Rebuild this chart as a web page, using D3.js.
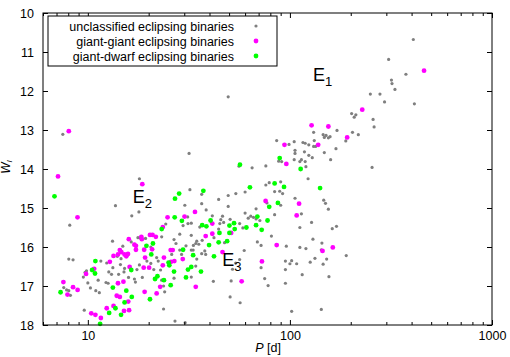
<!DOCTYPE html>
<html lang="en">
<head>
<meta charset="utf-8">
<script src="https://d3js.org/d3.v7.min.js"></script>
<style>
    body { margin: 0; background: #fff; }
    svg text { font-family: "Liberation Sans", Arial, Helvetica, sans-serif; }
</style>
</head>
<body>
<svg id="main" width="510" height="357"></svg>
<script>
// period P [d], magnitude W_I
const unclassified = [
    [408,10.68],[308,11.19],[375,11.57],[318,11.72],[320,11.81],[331,11.96],[413,12.33],[250,12.08],[279,12.08],[294,12.28],
    [202,12.58],[212,12.61],[208,12.67],[258,12.73],[261,12.92],[131,13.06],[171,13.01],[146,13.12],[151,13.14],[158,13.17],
    [148,13.19],[155,13.2],[204,13.06],[218,13.12],[189,13.28],[132,13.27],[86,13.27],[99,13.37],[105,13.3],[116,13.32],
    [119,13.34],[124,13.38],[131,13.42],[134,13.42],[106,13.52],[106,13.6],[118,13.56],[169,13.48],[148,13.58],[88,13.8],
    [91,13.81],[124,13.65],[129,13.71],[114,13.76],[112,13.81],[119,13.81],[105,13.76],[159,13.76],[120,13.94],[255,13.96],
    [76,13.92],[65,13.97],[123,14.25],[106,14.75],[114,15.15],[147,14.8],[150,14.88],[155,15.03],[128,15.37],[112,15.5],
    [162,15.53],[170,15.47],[130,15.8],[144,15.9],[143,16.07],[152,16.31],[146,16.44],[156,16.76],[190,16.22],[133,16.29],
    [126,16.39],[120,16.04],[112,16.01],[115,16.71],[143,17.6],[102,17.65],[95,16.93],[95,16.58],[95,16.36],[100,16.43],
    [102,16.35],[108,16.43],[96,15.98],[81,15.72],[72,15.96],[69,15.87],[72,16.53],[75,16.81],[78,16.99],[66,15.24],
    [68,15.28],[71,15.32],[68,15.02],[84,15.17],[77,14.87],[90,14.93],[92,14.63],[89,14.57],[84,14.58],[79,14.35],
    [76,14.41],[90,14.33],
    [31.7,13.6],[56,13.93],[60,14.59],[54,14.63],[49.5,14.68],[36.6,14.65],[32,14.53],[44.4,14.78],[36.6,14.89],[38.5,15.05],
    [49.5,14.96],[41.3,15.2],[60,15.13],[64,15.21],[46.4,15.21],[45.5,15.3],[47,15.37],[45,15.4],[62.2,15.26],[50.6,15.29],
    [56.4,15.4],[58.5,15.51],[32.5,15.39],[35.8,15.49],[44.4,15.54],
    [18,14.25],[30.2,14.93],[13.7,14.94],[17.9,15.1],[16.5,15.2],[31.2,15.23],[31.3,15.4],[29.6,15.45],[24.3,15.41],
    [7.52,13.11],[8.14,15.44],[49.5,12.15],
    [13.25,15.85],[8.05,16.31],[8.45,16.33],[11.6,16.36],[12.4,16.41],[13.3,16.53],[12.7,16.64],[13.1,16.7],[9.85,16.61],
    [9.7,16.65],[9.5,16.77],[11.25,16.85],[10,16.92],[10.3,17.05],[10.95,17.12],[11.4,17.17],[12.3,16.91],[12.6,16.93],
    [7.6,17.04],[7.85,17.1],[8.05,17.12],[8.2,17.24],[9.6,17.62],
    [14.9,15.98],[16.4,15.87],[17.7,15.76],[18.1,15.76],[23.2,15.74],[26.7,15.81],[28.5,15.67],[27.3,15.91],[30.6,15.97],
    [19.3,15.78],[20.5,16],[14,16.24],[14.6,16.3],[18,16.46],[19.6,16.36],[20.5,16.42],[21.9,16.27],[22.3,16.36],[28.5,16.08],
    [26,16.19],[29.1,16.19],[14.5,16.45],[15.2,16.55],[15.1,16.64],[17.5,16.58],[21.2,16.58],[22.9,16.59],[18.6,16.78],
    [21.6,16.83],[23.2,16.85],[17,16.82],[17.2,16.9],[15.9,16.78],[14.2,16.7],[23.7,17],[24,17.15],[26.7,16.8],[23.7,17.59],
    [27,17.9],[30.3,17.94],
    [32.5,15.7],[34.6,15.85],[34.2,15.91],[35.4,15.93],[36.8,15.83],[42.1,15.76],[47.5,15.89],[33.3,15.96],[32.5,16.08],
    [33.2,16.08],[36.6,16.17],[37.9,16.1],[38.3,16.19],[34.6,16.31],[59.4,16.09],[56.4,16.32],[53.9,16.41],[34.2,16.49],
    [52,16.57],[41.8,16.88],[51.2,16.87],[32.5,16.77],[50.6,17.28],[56.7,17.43]
];

const giantGiant = [
    [461,11.48],[228,12.48],[128,12.88],[155,12.91],[192,13.19],[94,13.38],[138,13.38],[96,13.87],[111,14.89],[108,15.19],
    [145,16.1],[163,16.01],[86,15.95],[72.7,16.37],[75.8,14.82],[33.9,15.1],[41.3,15.4],[18.6,14.39],[30.1,15.22],[24.8,15.24],
    [23.5,15.49],[8.05,13.03],[7.12,14.19],[8.89,15.24],[13.4,16.23],[12.85,16.38],[10.75,16.56],[9.8,16.69],[7.57,16.9],
    [8.45,17.03],[8.9,17.1],[7.93,17.22],[10.4,17.7],[10.9,17.74],[11.6,17.82],[12.4,17.57],[13.4,17.51],
    [15.95,15.8],[18.4,15.74],[18.5,15.8],[20.3,15.69],[20.9,15.69],[21.7,15.74],[17,15.94],[17.3,15.97],[14.4,16.08],
    [14.65,16.13],[15.2,16.19],[15.8,16.18],[15.5,16.24],[14.1,16.19],[17.3,16.07],[19,16.07],[19.2,16.27],[20.8,16.06],
    [23.8,16.27],[25.7,16.08],[26.3,16.08],[26.8,16.36],[25.8,16.38],[29.5,16.31],[23.5,16.47],[16.1,16.51],[20.1,16.53],
    [18.9,16.53],[14.1,16.93],[15,16.89],[19.1,17.15],[22.8,17.02],[21.9,17.19],[13.9,17.25],[14.4,17.28],[15.85,17.4],
    [16,17.62],[15.1,17.64],
    [38.3,15.72],[41.3,15.66],[51.2,15.64],[46.4,16.13],[57.7,16.88],[34.2,17.02]
];

const giantDwarf = [
    [89,13.72],[113,14.0],[141,14.49],[84,14.37],[93.5,14.46],[79,14.97],[87.2,14.87],[63.4,14.47],[69,15.22],[68,15.44],
    [77.5,15.32],[72.5,15.56],[56.6,13.89],[37.3,14.56],[40.5,15.32],[36.8,15.44],[38.6,15.47],[52.9,15.39],[50.2,15.45],
    [53.3,15.54],[60.9,15.5],[28.3,14.63],[27,14.76],[26.9,15.24],[29.2,15.33],[23.2,15.54],[6.84,14.7],[10.9,16.36],
    [10.5,16.59],[10.85,16.68],[13.3,17.04],[7.33,17.16],[11.5,17.97],[12.75,17.69],
    [19.5,15.97],[21,15.91],[20.6,16.19],[16.4,16.59],[25.1,16.4],[25.3,16.47],[26.7,16.63],[22.1,16.75],[21.5,16.82],
    [23.8,16.85],[25.7,16.98],[30.6,16.78],[31.3,16.58],[29.6,16.07],[15.5,17.12],[16.5,17.28],[20.3,17.34],[15.2,17.42],
    [13.7,17.57],[14.6,17.74],
    [44.8,15.64],[50.2,15.64],[48.9,15.85],[44.4,15.88],[39.8,15.95],[33.2,16.21],[42.1,16.24],[32.5,16.51],[36.3,16.63]
];

const xMajor = [10, 100, 1000];
const xMinor = [6,7,8,9,20,30,40,50,60,70,80,90,200,300,400,500,600,700,800,900];
const yTicks = [10,11,12,13,14,15,16,17,18];
const seriesNames = ['unclassified eclipsing binaries', 'giant-giant eclipsing binaries', 'giant-dwarf eclipsing binaries'];
const seriesColors = ['#7f7f7f', '#ff00ff', '#00ff00'];
const regions = [
    {name: 'E', sub: '1', P: 130, W: 11.74},
    {name: 'E', sub: '2', P: 16.7, W: 14.88},
    {name: 'E', sub: '3', P: 46.3, W: 16.49}
];

let svg = d3.select('svg#main');
let plotLeft = 43, plotRight = 492, plotTop = 13, plotBottom = 325;

let x = d3.scaleLog().domain([6, 1000]).range([plotLeft, plotRight]);
let y = d3.scaleLinear().domain([10, 18]).range([plotTop, plotBottom]);

// points
let sets = [unclassified, giantGiant, giantDwarf];
let radii = [1.6, 2.4, 2.4];
sets.forEach((set, i) => {
    svg.append('g').selectAll('circle')
        .data(set)
        .enter().append('circle')
        .attr('cx', d => x(d[0]))
        .attr('cy', d => y(d[1]))
        .attr('r', radii[i])
        .attr('fill', seriesColors[i]);
});

// axes, ticks pointing inward on all four sides
function styleAxis(g) {
    g.select('.domain').remove();
    g.selectAll('line').attr('stroke', '#000');
    g.selectAll('text').attr('font-size', '12.5px').attr('fill', '#000')
        .attr('font-family', '"Liberation Sans", Arial, sans-serif');
}

svg.append('g').attr('transform', 'translate(0,' + plotBottom + ')')
    .call(d3.axisBottom(x).tickValues(xMajor).tickSize(-5).tickPadding(6).tickFormat(d3.format('d')))
    .call(styleAxis);
svg.append('g').attr('transform', 'translate(0,' + plotBottom + ')')
    .call(d3.axisBottom(x).tickValues(xMinor).tickSize(-3).tickFormat(''))
    .call(styleAxis);
svg.append('g').attr('transform', 'translate(0,' + plotTop + ')')
    .call(d3.axisTop(x).tickValues(xMajor).tickSize(-5).tickFormat(''))
    .call(styleAxis);
svg.append('g').attr('transform', 'translate(0,' + plotTop + ')')
    .call(d3.axisTop(x).tickValues(xMinor).tickSize(-3).tickFormat(''))
    .call(styleAxis);
svg.append('g').attr('transform', 'translate(' + plotLeft + ',0)')
    .call(d3.axisLeft(y).tickValues(yTicks).tickSize(-5).tickPadding(9).tickFormat(d3.format('d')))
    .call(styleAxis);
svg.append('g').attr('transform', 'translate(' + plotRight + ',0)')
    .call(d3.axisRight(y).tickValues(yTicks).tickSize(-5).tickFormat(''))
    .call(styleAxis);

svg.append('rect')
    .attr('x', plotLeft).attr('y', plotTop)
    .attr('width', plotRight - plotLeft).attr('height', plotBottom - plotTop)
    .attr('fill', 'none').attr('stroke', '#000').attr('stroke-width', 1);

// region labels
regions.forEach(r => {
    let t = svg.append('text')
        .attr('x', x(r.P)).attr('y', y(r.W))
        .attr('font-size', '18px');
    t.append('tspan').text(r.name);
    t.append('tspan').attr('font-size', '13px').attr('dy', 5).text(r.sub);
});

// axis titles
let xt = svg.append('text').attr('x', 268).attr('y', 352)
    .attr('text-anchor', 'middle').attr('font-size', '12.5px');
xt.append('tspan').attr('font-style', 'italic').text('P');
xt.append('tspan').text(' [d]');

let yt = svg.append('text')
    .attr('transform', 'translate(10,167) rotate(-90)')
    .attr('text-anchor', 'middle').attr('font-size', '12px').attr('font-style', 'italic');
yt.append('tspan').text('W');
yt.append('tspan').attr('font-size', '8px').attr('dy', 2).text('I');

// legend
svg.append('rect')
    .attr('x', 48).attr('y', 16).attr('width', 229).attr('height', 50)
    .attr('fill', '#fff').attr('stroke', '#000').attr('stroke-width', 1);

let legend = svg.selectAll('.legendRow').data(seriesNames)
    .enter().append('g')
    .attr('class', 'legendRow')
    .attr('transform', (d, i) => 'translate(0,' + (26 + i * 15) + ')');

legend.append('text')
    .attr('x', 234).attr('y', 4.5)
    .attr('text-anchor', 'end').attr('font-size', '12.5px')
    .text(d => d);

legend.append('circle')
    .attr('cx', 256).attr('cy', 0)
    .attr('r', (d, i) => radii[i])
    .attr('fill', (d, i) => seriesColors[i]);
</script>
</body>
</html>
